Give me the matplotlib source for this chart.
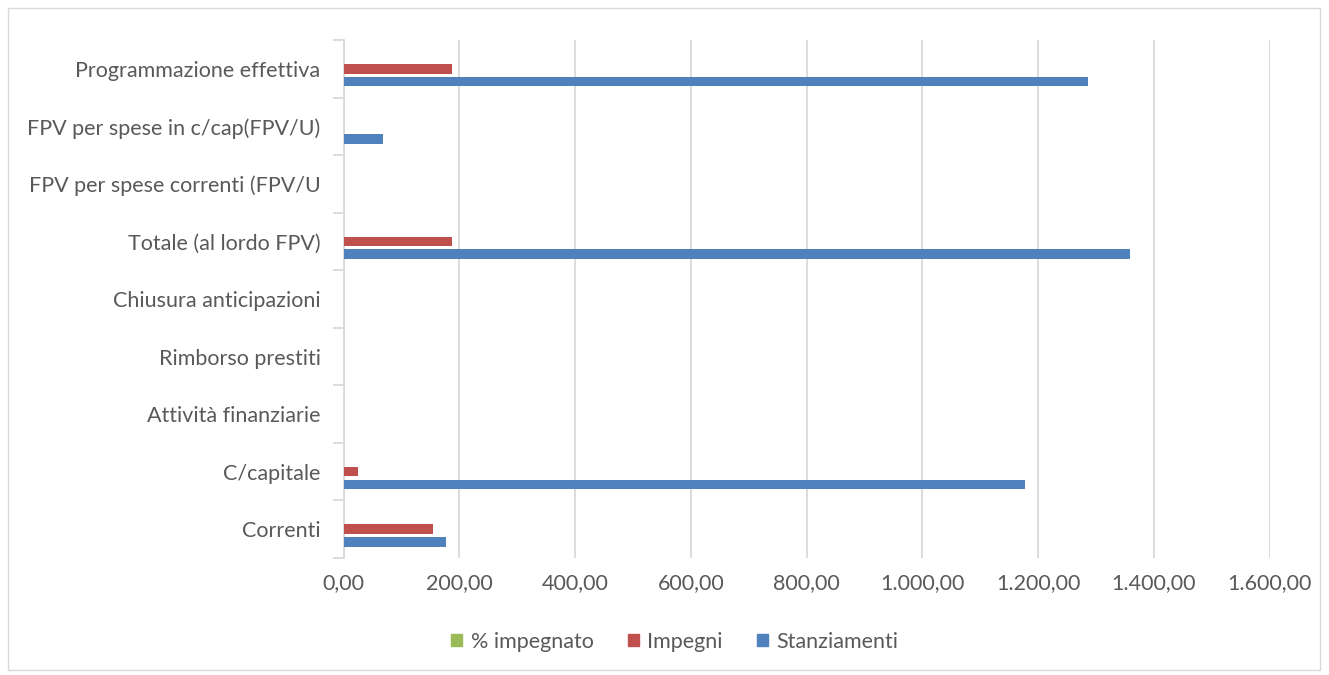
import matplotlib

matplotlib.use("Agg")
import numpy as np
import matplotlib.pyplot as plt
from matplotlib.patches import Patch, Rectangle
from matplotlib.ticker import FuncFormatter, MultipleLocator

# categories, bottom to top
categories = [
    "Correnti",
    "C/capitale",
    "Attività finanziarie",
    "Rimborso prestiti",
    "Chiusura anticipazioni",
    "Totale (al lordo FPV)",
    "FPV per spese correnti (FPV/U",
    "FPV per spese in c/cap(FPV/U)",
    "Programmazione effettiva",
]
stanziamenti = [176.5, 1176.7, 0, 0, 0, 1358.6, 0, 68, 1286.6]
impegni = [155, 24.5, 0, 0, 0, 187, 0, 0, 188]
perc_impegnato = [0.88, 0.02, 0, 0, 0, 0.14, 0, 0, 0.15]

c_blue = "#4f81bd"
c_red = "#c0504d"
c_green = "#9bbb59"
txt = "#595959"
grid = "#d9d9d9"
fs = 15.5

plt.rcParams["font.family"] = ["Lato", "DejaVu Sans"]

fig = plt.figure(figsize=(13.29, 6.75), dpi=100)
ax = fig.add_axes([343.5 / 1329, 117 / 675, (1269.7 - 343.5) / 1329, 518 / 675])

y = np.arange(len(categories))
slot = 0.222
h = 0.165
ax.barh(y - slot, stanziamenti, height=h, color=c_blue, zorder=3)
ax.barh(y, impegni, height=h, color=c_red, zorder=3)
ax.barh(y + slot, perc_impegnato, height=h, color=c_green, zorder=3)

ax.set_xlim(0, 1600)
ax.set_ylim(-0.5, len(categories) - 0.5)
ax.xaxis.set_major_locator(MultipleLocator(200))


def it_fmt(v, pos):
    s = f"{v:,.2f}"
    return s.replace(",", "X").replace(".", ",").replace("X", ".")


ax.xaxis.set_major_formatter(FuncFormatter(it_fmt))
ax.grid(axis="x", color=grid, linewidth=1.3, zorder=0)

ax.set_yticks(y)
ax.set_yticklabels(categories)
ax.set_yticks(np.arange(-0.5, len(categories)), minor=True)
ax.tick_params(axis="y", which="major", length=0, pad=16.5, labelsize=fs, labelcolor=txt)
ax.tick_params(axis="y", which="minor", length=8, color=grid, width=1.3)
ax.tick_params(axis="x", length=0, pad=11, labelsize=fs, labelcolor=txt)

for s in ["top", "right", "bottom"]:
    ax.spines[s].set_visible(False)
ax.spines["left"].set_color(grid)
ax.spines["left"].set_linewidth(1.3)

handles = [
    Patch(color=c_green, label="% impegnato"),
    Patch(color=c_red, label="Impegni"),
    Patch(color=c_blue, label="Stanziamenti"),
]
fig.legend(
    handles=handles,
    loc="center",
    bbox_to_anchor=(675 / 1329, 1 - 642 / 675),
    ncol=3,
    frameon=False,
    fontsize=fs,
    labelcolor=txt,
    handlelength=0.5,
    handleheight=0.5,
    handletextpad=0.4,
    columnspacing=1.6,
)

fig.patches.append(
    Rectangle((8 / 1329, 5 / 675), 1312 / 1329, 662 / 675, transform=fig.transFigure,
              fill=False, edgecolor=grid, linewidth=1)
)

fig.savefig("out.png", dpi=100)
